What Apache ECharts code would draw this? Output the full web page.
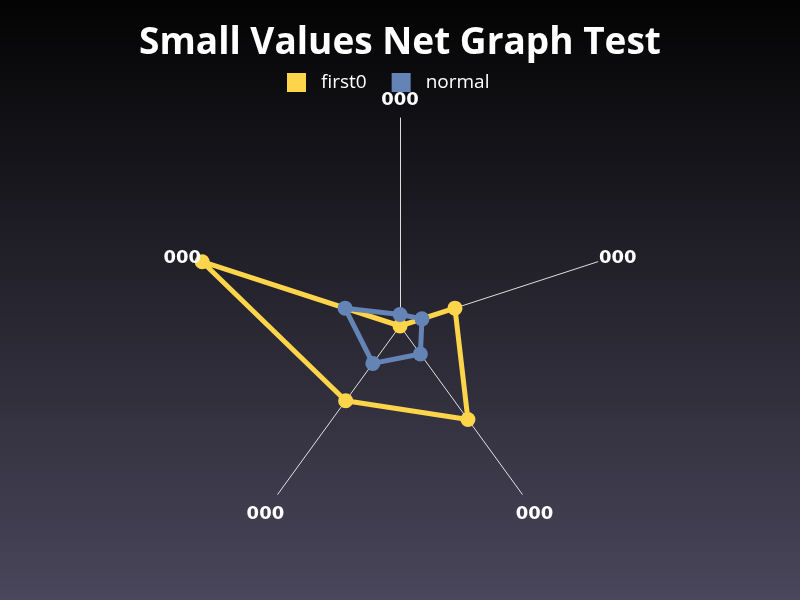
<!DOCTYPE html>
<html>
<head>
<meta charset="utf-8">
<script src="https://cdn.jsdelivr.net/npm/echarts@6/dist/echarts.min.js"></script>
<style>html,body{margin:0;padding:0;}#c{width:800px;height:600px;}</style>
</head>
<body>
<div id="c"></div>
<script>
// Axis labels (clockwise from top)
const axisLabels = ['000', '000', '000', '000', '000'];
const seriesNames = ['first0', 'normal'];
// Values in clockwise order starting at top
const first0 = [0, 0.005, 0.01, 0.008, 0.018];
const normal = [0.001, 0.002, 0.003, 0.004, 0.005];
const maxValue = 0.018;
const colors = ['#fdd54a', '#6584b6'];

// ECharts places indicators counterclockwise; reorder to get clockwise layout
const order = [0, 4, 3, 2, 1];
const reorder = arr => order.map(i => arr[i]);
const labelsOrdered = reorder(axisLabels);

const chart = echarts.init(document.getElementById('c'));
chart.setOption({
  backgroundColor: new echarts.graphic.LinearGradient(0, 0, 0, 1, [
    {offset: 0, color: '#030303'},
    {offset: 1, color: '#4a465b'}
  ]),
  animation: false,
  color: colors,
  title: {
    text: 'Small Values Net Graph Test',
    left: 'center',
    top: 20,
    textStyle: {color: '#ffffff', fontSize: 37, fontWeight: 'bold', fontFamily: 'Open Sans'}
  },
  legend: {
    data: seriesNames,
    top: 68,
    left: 282,
    itemWidth: 19,
    itemHeight: 19,
    itemGap: 25,
    icon: 'rect',
    textStyle: {color: '#ffffff', fontSize: 19, fontFamily: 'Open Sans', padding: [0, 0, 0, 10]}
  },
  radar: [{
    center: [400, 326],
    radius: 208,
    startAngle: 90,
    shape: 'polygon',
    splitNumber: 1,
    axisName: {show: false},
    indicator: labelsOrdered.map(n => ({name: n, min: 0, max: maxValue})),
    axisLine: {lineStyle: {color: 'rgba(255,255,255,0.85)', width: 1}},
    splitLine: {show: false},
    splitArea: {show: false}
  }, {
    // outer ring used only to place the axis labels centred beyond the axis ends
    center: [400, 326],
    radius: 229,
    startAngle: 90,
    shape: 'polygon',
    splitNumber: 1,
    axisName: {show: false},
    indicator: labelsOrdered.map(n => ({name: n, min: 0, max: maxValue})),
    axisLine: {show: false},
    axisTick: {show: false},
    axisLabel: {show: false},
    splitLine: {show: false},
    splitArea: {show: false}
  }],
  series: [{
    type: 'radar',
    radarIndex: 0,
    symbol: 'circle',
    symbolSize: 15,
    lineStyle: {width: 5},
    data: [
      {name: seriesNames[0], value: reorder(first0), itemStyle: {color: colors[0]}, lineStyle: {color: colors[0], width: 5}},
      {name: seriesNames[1], value: reorder(normal), itemStyle: {color: colors[1]}, lineStyle: {color: colors[1], width: 5}}
    ]
  }, {
    type: 'radar',
    radarIndex: 1,
    name: 'axis-labels',
    silent: true,
    symbol: 'circle',
    symbolSize: 2,
    itemStyle: {color: 'rgba(0,0,0,0)'},
    lineStyle: {color: 'rgba(0,0,0,0)', width: 0},
    areaStyle: {opacity: 0},
    data: [{
      value: labelsOrdered.map(() => maxValue),
      label: {
        show: true,
        position: 'inside',
        offset: [0, 3],
        color: '#ffffff',
        opacity: 1,
        fontSize: 18,
        fontWeight: 'bold',
        fontFamily: 'DejaVu Sans',
        formatter: p => (p.dimensionIndex != null ? labelsOrdered[p.dimensionIndex] : labelsOrdered[0])
      }
    }]
  }]
});
</script>
</body>
</html>
